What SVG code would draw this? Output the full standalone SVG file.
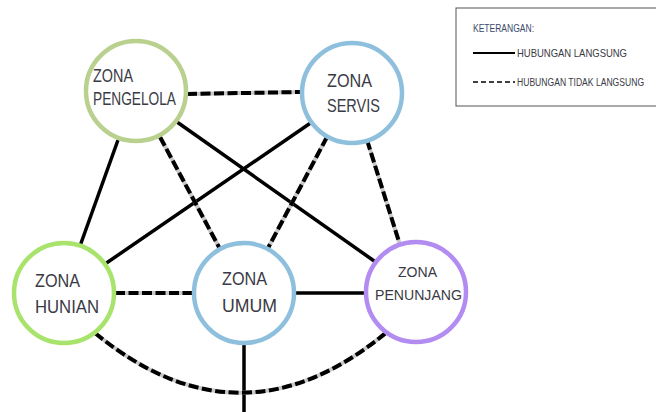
<svg xmlns="http://www.w3.org/2000/svg" width="656" height="412" viewBox="0 0 656 412">
<style>
.zone{fill:#fff;stroke-width:4.5}
.lbl{font-family:"Liberation Sans",Arial,sans-serif;font-size:17.5px;fill:#3a3a44}
.lg{font-family:"Liberation Sans",Arial,sans-serif;font-size:11px;fill:#3a3a44}
.solid{stroke:#000;stroke-width:3.5;fill:none}
.dbase{stroke:#c8c8c8;stroke-width:4;fill:none}
.dash{stroke:#000;stroke-width:4;fill:none;stroke-dasharray:10 3.5}
</style>
<rect width="656" height="412" fill="#fff"/>
<g id="connectors">
<line class="solid" x1="118" y1="140" x2="80" y2="246"/>
<line class="solid" x1="177" y1="122" x2="377" y2="263"/>
<line class="solid" x1="312" y1="122" x2="105" y2="264"/>
<line class="solid" x1="295" y1="293" x2="365" y2="293"/>
<line class="solid" x1="244" y1="344" x2="244" y2="412"/>
<g>
<line class="dbase" x1="187" y1="94" x2="302" y2="92"/>
<line class="dash" x1="187" y1="94" x2="302" y2="92"/>
<line class="dbase" x1="160" y1="137" x2="220" y2="249"/>
<line class="dash" x1="160" y1="137" x2="220" y2="249"/>
<line class="dbase" x1="327" y1="137" x2="267" y2="250"/>
<line class="dash" x1="327" y1="137" x2="267" y2="250"/>
<line class="dbase" x1="367" y1="140" x2="400" y2="245"/>
<line class="dash" x1="367" y1="140" x2="400" y2="245"/>
<line class="dbase" x1="115" y1="293" x2="193" y2="293"/>
<line class="dash" x1="115" y1="293" x2="193" y2="293"/>
<path class="dbase" d="M95 333 Q241 453 387 332"/>
<path class="dash" d="M95 333 Q241 453 387 332"/>
</g>
</g>
<g id="zona-pengelola">
<circle class="zone" cx="136" cy="91" r="50" stroke="#b9d08e"/>
<text class="lbl" x="93" y="82" textLength="40" lengthAdjust="spacingAndGlyphs">ZONA</text>
<text class="lbl" x="93" y="105" textLength="83" lengthAdjust="spacingAndGlyphs">PENGELOLA</text>
</g>
<g id="zona-servis">
<circle class="zone" cx="352" cy="93" r="50" stroke="#8ec0dd"/>
<text class="lbl" x="327" y="87" textLength="45" lengthAdjust="spacingAndGlyphs">ZONA</text>
<text class="lbl" x="327" y="112" textLength="53" lengthAdjust="spacingAndGlyphs">SERVIS</text>
</g>
<g id="zona-hunian">
<circle class="zone" cx="64" cy="293" r="50" stroke="#a8e36c"/>
<text class="lbl" x="35" y="287" textLength="45" lengthAdjust="spacingAndGlyphs">ZONA</text>
<text class="lbl" x="35" y="313" textLength="64" lengthAdjust="spacingAndGlyphs">HUNIAN</text>
</g>
<g id="zona-umum">
<circle class="zone" cx="244" cy="293" r="50" stroke="#8ec0dd"/>
<text class="lbl" x="222" y="285" textLength="45" lengthAdjust="spacingAndGlyphs">ZONA</text>
<text class="lbl" x="222" y="312" textLength="55" lengthAdjust="spacingAndGlyphs">UMUM</text>
</g>
<g id="zona-penunjang">
<circle class="zone" cx="416" cy="292" r="50" stroke="#b28cf0"/>
<text class="lbl" x="398" y="277" textLength="39" lengthAdjust="spacingAndGlyphs" style="font-size:15.5px">ZONA</text>
<text class="lbl" x="375" y="300" textLength="87" lengthAdjust="spacingAndGlyphs" style="font-size:15.5px">PENUNJANG</text>
</g>
<g id="legend">
<rect x="456" y="8" width="210" height="98" fill="#fff" stroke="#555" stroke-width="1"/>
<text class="lg" x="473" y="32" textLength="61" lengthAdjust="spacingAndGlyphs" style="fill:#3a4a6a">KETERANGAN:</text>
<line x1="473" y1="53" x2="515" y2="53" stroke="#000" stroke-width="2"/>
<text class="lg" x="517" y="57" textLength="110" lengthAdjust="spacingAndGlyphs">HUBUNGAN LANGSUNG</text>
<line x1="473" y1="82" x2="515" y2="82" stroke="#000" stroke-width="1.6" stroke-dasharray="5 3"/>
<text class="lg" transform="translate(517 86) scale(0.78 1)">HUBUNGAN TIDAK LANGSUNG</text>
</g>
</svg>
